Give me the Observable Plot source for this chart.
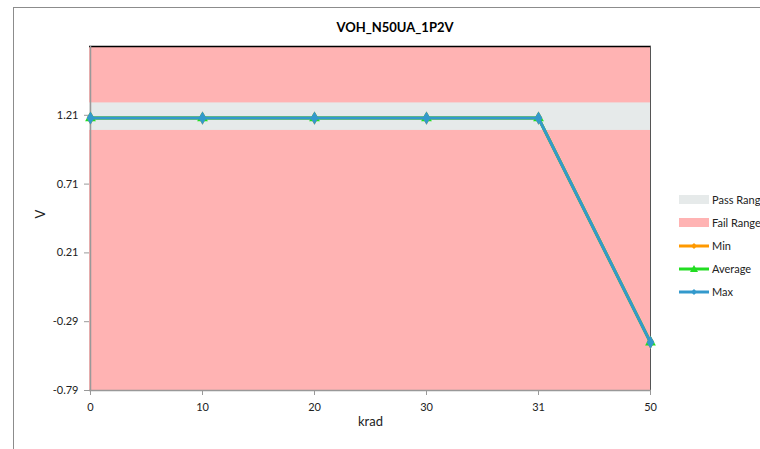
<!DOCTYPE html>
<html><head><meta charset="utf-8">
<script src="https://cdn.jsdelivr.net/npm/d3@7"></script>
<script src="https://cdn.jsdelivr.net/npm/@observablehq/plot@0.6"></script>
<style>
body{margin:0;background:#fff;font-family:Lato,"Open Sans",sans-serif;}
#wrap{position:relative;width:760px;height:449px;overflow:hidden;}
#frame{position:absolute;left:13px;top:7px;width:800px;height:500px;border:1px solid #8c8c8c;box-sizing:border-box;pointer-events:none;}
#title{position:absolute;left:0;width:790px;top:19px;text-align:center;font-weight:bold;font-size:13px;color:#000;}
#legend{position:absolute;left:679px;top:188px;font-size:11px;color:#222;white-space:nowrap;}
.row{height:23px;display:flex;align-items:center;}
.sw{width:30px;height:14px;position:relative;margin-right:3px;flex:none;}
</style></head>
<body><div id="wrap"><div id="frame"></div><div id="title"></div><div id="legend"></div></div>
<script>
const title = "VOH_N50UA_1P2V";
const xLabel = "krad";
const yLabel = "V";
const categories = ["0","10","20","30","31","50"];
const minVals = [1.19,1.19,1.19,1.19,1.19,-0.44];
const avgVals = [1.19,1.19,1.19,1.19,1.19,-0.44];
const maxVals = [1.19,1.19,1.19,1.19,1.19,-0.44];
const yTicks = [-0.79,-0.29,0.21,0.71,1.21];
const yDomain = [-0.79,1.71];
const passRange = [1.1,1.3];
const seriesNames = ["Min","Average","Max"];
const seriesColors = ["#FF9900","#22DD22","#3399CC"];
const seriesSymbols = ["diamond","triangle","diamond"];
const rangeNames = ["Pass Range","Fail Range"];
const rangeColors = ["#E6EAEA","#FFB3B3"];

const seriesVals = [minVals, avgVals, maxVals];
const rows = seriesNames.flatMap((s,i)=>categories.map((c,j)=>({series:s,krad:c,v:seriesVals[i][j]})));

const marks = [
  Plot.rect([0],{y1:()=>yDomain[0],y2:()=>yDomain[1],fill:rangeColors[1]}),
  Plot.rect([0],{y1:()=>passRange[0],y2:()=>passRange[1],fill:rangeColors[0]}),
  Plot.ruleY([yDomain[1]],{stroke:"#000",strokeWidth:1.5}),
  Plot.ruleX([categories[categories.length-1]],{stroke:"#555",strokeWidth:1}),
  Plot.ruleX([categories[0]],{stroke:"#999",strokeWidth:1.5}),
  Plot.ruleY([yDomain[0]],{stroke:"#999",strokeWidth:1.5}),
  Plot.axisY({ticks:yTicks,tickFormat:d=>d.toFixed(2),tickSize:5,tickPadding:6,fontSize:11,stroke:"#999",color:"#222",label:null}),
  Plot.axisX({tickSize:5,tickPadding:8,fontSize:11,stroke:"#999",color:"#222",label:null}),
  Plot.text([xLabel],{text:d=>d,frameAnchor:"bottom",dy:35,fontSize:13,fill:"#222"}),
  Plot.text([yLabel],{text:d=>d,frameAnchor:"left",dx:-49,rotate:-90,fontSize:13,fill:"#222"})
];
seriesNames.forEach((s,i)=>{
  const d = rows.filter(r=>r.series===s);
  marks.push(Plot.line(d,{x:"krad",y:"v",stroke:seriesColors[i],strokeWidth:3}));
  marks.push(Plot.dot(d,{x:"krad",y:"v",fill:seriesColors[i],symbol:seriesSymbols[i],r:4}));
});

const chart = Plot.plot({
  width:760,height:449,
  marginLeft:89,marginRight:109,marginTop:46,marginBottom:59,
  style:{fontFamily:"Lato, 'Open Sans', sans-serif",background:"transparent",color:"#222",fontSize:"12px"},
  x:{type:"point",domain:categories,padding:0,label:null},
  y:{domain:yDomain,label:null},
  marks
});
document.getElementById("wrap").prepend(chart);
chart.style.position="absolute";chart.style.left="0";chart.style.top="0";
document.getElementById("title").textContent = title;

const lg = document.getElementById("legend");
rangeNames.forEach((n,i)=>{
  lg.insertAdjacentHTML("beforeend",`<div class="row"><div class="sw" style="background:${rangeColors[i]};height:9px"></div><span>${n}</span></div>`);
});
seriesNames.forEach((n,i)=>{
  const mk = seriesSymbols[i]==="triangle"
    ? `<polygon points="15,3 19,10 11,10" fill="${seriesColors[i]}"/>`
    : `<polygon points="15,4 18,7 15,10 12,7" fill="${seriesColors[i]}"/>`;
  lg.insertAdjacentHTML("beforeend",`<div class="row"><svg class="sw" width="30" height="14"><line x1="0" y1="7" x2="30" y2="7" stroke="${seriesColors[i]}" stroke-width="3"/>${mk}</svg><span>${n}</span></div>`);
});
</script></body></html>
